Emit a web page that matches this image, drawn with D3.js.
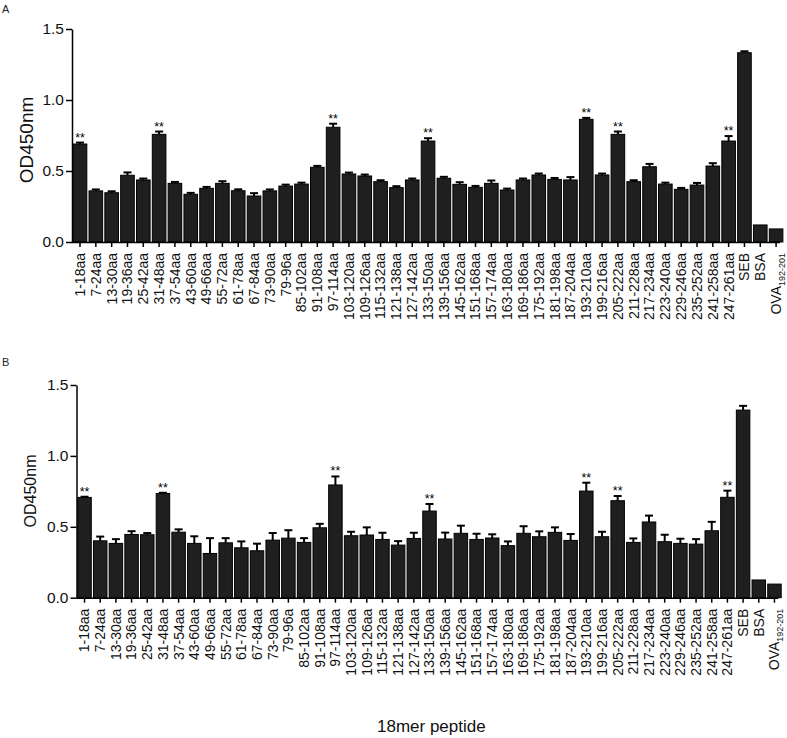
<!DOCTYPE html>
<html>
<head>
<meta charset="utf-8">
<script src="https://cdn.jsdelivr.net/npm/d3@7"></script>
<style>
  html, body { margin: 0; padding: 0; background: #fff; }
  svg { display: block; font-family: "Liberation Sans", Arial, sans-serif; }
</style>
</head>
<body>
<svg id="chart" width="787" height="738"></svg>
<script>
const categories = ["1-18aa","7-24aa","13-30aa","19-36aa","25-42aa","31-48aa","37-54aa","43-60aa","49-66aa","55-72aa","61-78aa","67-84aa","73-90aa","79-96a","85-102aa","91-108aa","97-114aa","103-120aa","109-126aa","115-132aa","121-138aa","127-142aa","133-150aa","139-156aa","145-162aa","151-168aa","157-174aa","163-180aa","169-186aa","175-192aa","181-198aa","187-204aa","193-210aa","199-216aa","205-222aa","211-228aa","217-234aa","223-240aa","229-246aa","235-252aa","241-258aa","247-261aa","SEB","BSA","OVA_192-201"];

const valuesA = [0.69,0.36,0.347,0.47,0.437,0.758,0.413,0.336,0.378,0.413,0.361,0.324,0.36,0.394,0.408,0.526,0.808,0.479,0.465,0.425,0.383,0.437,0.711,0.449,0.406,0.385,0.413,0.366,0.437,0.472,0.441,0.437,0.864,0.472,0.758,0.425,0.53,0.408,0.371,0.401,0.535,0.711,1.333,0.12,0.092];
const errorsA = [0.01,0.01,0.01,0.02,0.01,0.02,0.01,0.01,0.01,0.015,0.01,0.02,0.01,0.01,0.01,0.01,0.025,0.01,0.01,0.01,0.01,0.01,0.02,0.01,0.015,0.01,0.02,0.01,0.01,0.01,0.01,0.02,0.01,0.01,0.02,0.01,0.02,0.01,0.01,0.015,0.02,0.035,0.01,0,0];

const valuesB = [0.707,0.401,0.383,0.446,0.444,0.735,0.462,0.383,0.312,0.387,0.352,0.331,0.406,0.42,0.39,0.493,0.795,0.437,0.442,0.411,0.371,0.418,0.611,0.414,0.454,0.411,0.421,0.367,0.454,0.43,0.461,0.404,0.752,0.43,0.684,0.39,0.534,0.395,0.383,0.378,0.472,0.708,1.323,0.125,0.096];
const errorsB = [0.005,0.03,0.03,0.023,0.012,0.005,0.02,0.05,0.108,0.033,0.045,0.05,0.05,0.056,0.03,0.028,0.06,0.028,0.054,0.047,0.028,0.04,0.05,0.045,0.054,0.04,0.026,0.03,0.05,0.038,0.035,0.045,0.059,0.035,0.033,0.028,0.045,0.049,0.033,0.035,0.063,0.047,0.03,0,0];

const significant = ["1-18aa","31-48aa","97-114aa","133-150aa","193-210aa","205-222aa","247-261aa"];
const yTicks = [0, 0.5, 1.0, 1.5];
const yLabel = "OD450nm";
const xTitle = "18mer peptide";

const svg = d3.select("#chart");

function drawPanel(cfg) {
  const g = svg.append("g");
  const x = d3.scaleBand().domain(categories)
    .range([cfg.x0, cfg.x1]).paddingInner(0.14).paddingOuter(0.07);
  const y = d3.scaleLinear().domain([0, 1.5]).range([cfg.yBottom, cfg.yTop]);

  const data = categories.map((c, i) => ({c, v: cfg.values[i], e: cfg.errors[i]}));

  // bars
  g.selectAll("rect.bar").data(data).enter().append("rect")
    .attr("class", "bar")
    .attr("x", d => x(d.c))
    .attr("width", x.bandwidth())
    .attr("y", d => y(d.v))
    .attr("height", d => y(0) - y(d.v))
    .attr("fill", "#1f1f1f")
    .attr("stroke", "#000")
    .attr("stroke-width", 1);

  // error bars (upper only)
  const eb = g.selectAll("g.err").data(data.filter(d => d.e > 0)).enter().append("g").attr("class", "err");
  eb.append("line")
    .attr("x1", d => x(d.c) + x.bandwidth() / 2)
    .attr("x2", d => x(d.c) + x.bandwidth() / 2)
    .attr("y1", d => y(d.v))
    .attr("y2", d => y(d.v + d.e))
    .attr("stroke", "#000").attr("stroke-width", 2);
  eb.append("line")
    .attr("x1", d => x(d.c) + x.bandwidth() / 2 - 4)
    .attr("x2", d => x(d.c) + x.bandwidth() / 2 + 4)
    .attr("y1", d => y(d.v + d.e))
    .attr("y2", d => y(d.v + d.e))
    .attr("stroke", "#000").attr("stroke-width", 2);

  // significance stars
  g.selectAll("text.sig").data(data.filter(d => significant.includes(d.c))).enter().append("text")
    .attr("class", "sig")
    .attr("x", d => x(d.c) + x.bandwidth() / 2)
    .attr("y", d => y(d.v + d.e) - 1)
    .attr("text-anchor", "middle")
    .attr("font-size", 12.5)
    .text("**");

  // y axis
  const yAxis = d3.axisLeft(y).tickValues(yTicks).tickFormat(d3.format(".1f")).tickSize(6).tickPadding(2).tickSizeOuter(0);
  const ya = g.append("g").attr("transform", `translate(${cfg.axisX},0)`).call(yAxis);
  ya.selectAll("text").attr("font-size", cfg.yTickFont).attr("fill", "#111").attr("font-family", null);
  ya.selectAll("line").attr("stroke", "#000").attr("stroke-width", 1.5);
  ya.select(".domain").attr("stroke", "#000").attr("stroke-width", 1.5);

  // x axis
  const xAxis = d3.axisBottom(x).tickSize(5).tickPadding(6).tickSizeOuter(0);
  const xa = g.append("g").attr("transform", `translate(0,${cfg.yBottom})`).call(xAxis);
  xa.select(".domain").attr("d", `M${cfg.axisX},0.5H${cfg.x1 - 4}`).attr("stroke", "#000").attr("stroke-width", 1.5);
  xa.selectAll("line").attr("stroke", "#000").attr("stroke-width", 1.5);
  xa.selectAll(".tick text")
    .attr("font-family", null)
    .attr("font-size", 14)
    .attr("fill", "#111")
    .attr("text-anchor", "end")
    .attr("dy", "0.35em")
    .attr("transform", "rotate(-90)")
    .attr("x", -11)
    .attr("y", 0)
    .each(function(d) {
      const t = d3.select(this);
      if (d.includes("_")) {
        const parts = d.split("_");
        t.text(null);
        t.append("tspan").text(parts[0]);
        t.append("tspan").attr("font-size", 9).attr("dy", "0.45em").text(parts[1]);
      }
    });

  // y label
  svg.append("text")
    .attr("transform", `translate(${cfg.yLabelX},${cfg.yLabelY}) rotate(-90)`)
    .attr("text-anchor", "middle")
    .attr("font-size", cfg.yLabelFont)
    .attr("fill", "#111")
    .text(yLabel);

  // panel letter
  svg.append("text")
    .attr("x", 2).attr("y", cfg.letterY)
    .attr("font-size", 11).attr("fill", "#222")
    .text(cfg.letter);
}

drawPanel({letter: "A", letterY: 13, values: valuesA, errors: errorsA,
  x0: 72.1, x1: 784, axisX: 72, yBottom: 242, yTop: 29,
  yTickFont: 15.5, yLabelFont: 19, yLabelX: 33, yLabelY: 140});
drawPanel({letter: "B", letterY: 366, values: valuesB, errors: errorsB,
  x0: 76.7, x1: 782.3, axisX: 76.5, yBottom: 597.7, yTop: 385,
  yTickFont: 15.5, yLabelFont: 16, yLabelX: 36, yLabelY: 491});

svg.append("text")
  .attr("x", 377).attr("y", 732)
  .attr("font-size", 17).attr("fill", "#111")
  .text(xTitle);
</script>
</body>
</html>
